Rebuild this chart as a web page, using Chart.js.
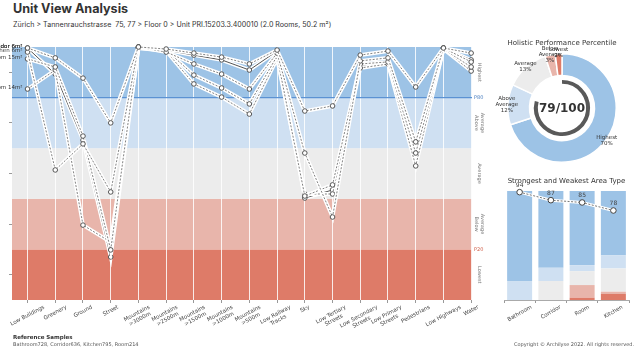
<!DOCTYPE html>
<html>
<head>
<meta charset="utf-8">
<script src="https://cdn.jsdelivr.net/npm/chart.js@4.4.0/dist/chart.umd.min.js"></script>
<style>
  body { margin: 0; width: 640px; height: 350px; position: relative; background: #fff; overflow: hidden; font-family: "DejaVu Sans", sans-serif; color: #333; }
  canvas { position: absolute; }
  #main { left: 0; top: 0; }
  #donut { left: 490px; top: 36px; }
  #bars { left: 490px; top: 170px; }
  .title { position: absolute; left: 13px; top: 1px; font: 700 12.6px Inter, sans-serif; color: #333; }
  .subtitle { position: absolute; left: 13px; top: 20px; font: 7.1px Inter, sans-serif; color: #333; white-space: nowrap; }
  .refhead { position: absolute; left: 13px; top: 334px; font: bold 5.5px "DejaVu Sans", sans-serif; color: #333; }
  .reftext { position: absolute; left: 13px; top: 341px; font: 5px "DejaVu Sans", sans-serif; color: #555; white-space: nowrap; }
  .copy { position: absolute; right: 6px; top: 341px; font: 5px "DejaVu Sans", sans-serif; color: #555; white-space: nowrap; }
</style>
</head>
<body>
<div class="title">Unit View Analysis</div>
<div class="subtitle">Zürich &gt; Tannenrauchstrasse&nbsp; 75, 77 &gt; Floor 0 &gt; Unit PRI.15203.3.400010 (2.0 Rooms, 50.2 m²)</div>
<canvas id="main" width="490" height="340"></canvas>
<canvas id="donut" width="150" height="140"></canvas>
<canvas id="bars" width="150" height="160"></canvas>
<div class="refhead">Reference Samples</div>
<div class="reftext">Bathroom728, Corridor636, Kitchen795, Room214</div>
<div class="copy">Copyright © Archilyse 2022. All rights reserved.</div>

<script>
// view categories (x axis of the parallel plot)
const categories = ['Low Buildings', 'Greenery', 'Ground', 'Street', 'Mountains\n>3000m', 'Mountains\n>2500m',
    'Mountains\n>1500m', 'Mountains\n>1000m', 'Mountains\n>500m', 'Low Railway\nTracks', 'Sky',
    'Low Tertiary\nStreets', 'Low Secondary\nStreets', 'Low Primary\nStreets', 'Pedestrians', 'Low Highways', 'Water'];

// percentile bands, bottom to top
const bandEdges = [0, 20, 40, 60, 80, 100];
const bandNames = ['Lowest', 'Below\nAverage', 'Average', 'Above\nAverage', 'Highest'];
const bandCentres = [10, 30, 50, 70, 90];

// reference samples, percentile per category
const sampleNames = ['Corridor 6m²', 'Kitchen 6m²', 'Bathroom 15m²', 'Room 14m²', 'Corridor 6m²'];
const corridor6 = [99.6, 95.7, 87.7, 70.0, 100, 99.2, 97.6, 96.0, 93.3, 98.8, 74.7, 76.7, 96.8, 98.4, 84.2, 99.6, 97.6];
const kitchen6 = [98.0, 51.4, 61.7, 42.7, 100, 98.0, 93.3, 89.3, 83.4, 97.6, 58.1, 32.8, 94.5, 95.7, 62.5, 99.6, 94.1];
const bathroom15 = [95.3, 92.1, 64.8, 19.8, 100, 98.8, 88.9, 83.8, 77.5, 96.4, 41.1, 45.5, 93.3, 94.1, 58.1, 99.2, 92.1];
const room14 = [83.4, 90.9, 29.6, 22.9, 99.6, 98.4, 85.4, 80.2, 73.5, 95.3, 41.9, 41.9, 91.7, 93.3, 53.0, 99.2, 90.5];
const corridor6b = [99.6, 89.3, 63.2, 17.0, 99.6, 98.8, 96.8, 94.9, 90.9, 98.4, 40.3, 43.5, 92.5, 93.7, 56.1, 99.6, 94.9];
const samples = [corridor6, kitchen6, bathroom15, room14, corridor6b];

// holistic percentile doughnut
const shareLabels = ['Highest', 'Above\nAverage', 'Average', 'Below\nAverage', 'Lowest'];
const shareValues = [70, 12, 13, 3, 2];
const score = 79;

// strongest / weakest area type
const areaTypes = ['Bathroom', 'Corridor', 'Room', 'Kitchen'];
const lowestShare = [0, 0, 2.1, 5.5];
const belowShare = [0, 0, 11.6, 2.1];
const averageShare = [0, 17.4, 12.8, 21.3];
const aboveShare = [17.4, 12.2, 5.5, 12.2];
const highestShare = [82.6, 70.4, 68.0, 58.9];
const areaScores = [94, 87, 85, 78];

const bandColors = ['#de7b68', '#e8b5ab', '#ececec', '#cfe0f2', '#9dc3e6'];
const FONT = '"DejaVu Sans", sans-serif';

// rotated tick labels centred under each tick
function drawTickLabels(chart, labels, size, deg, top) {
    const ctx = chart.ctx, x = chart.scales.x;
    const a = deg * Math.PI / 180, lh = size * 1.15;
    ctx.save();
    ctx.font = size + 'px ' + FONT;
    ctx.fillStyle = '#444';
    ctx.textAlign = 'center';
    ctx.textBaseline = 'middle';
    labels.forEach(function (label, i) {
        const lines = label.split('\n');
        const w = Math.max.apply(null, lines.map(function (l) { return ctx.measureText(l).width; }));
        const h = lines.length * lh;
        const cx = x.getPixelForValue(i);
        const cy = top + (w / 2) * Math.sin(a) + (h / 2) * Math.cos(a);
        ctx.setTransform(1, 0, 0, 1, cx, cy);
        ctx.rotate(-a);
        lines.forEach(function (l, k) { ctx.fillText(l, 0, (k - (lines.length - 1) / 2) * lh); });
    });
    ctx.restore();
}

// main parallel plot
let datasets = [];
samples.forEach(function (s, n) {
    const pts = s.map(function (v, i) { return {x: i, y: v}; });
    const solid = n === 4;
    datasets.push({data: pts, borderColor: '#fff', borderWidth: 3.8, pointRadius: 0, tension: 0, order: 2 * n + 1, clip: false});
    datasets.push({data: pts, borderColor: solid ? '#555' : '#5a5a5a', borderWidth: solid ? 1 : 0.75,
        borderDash: solid ? [] : [2, 1.5], pointRadius: 2.3, pointBorderWidth: 0.9,
        pointBackgroundColor: '#fff', pointBorderColor: '#444', tension: 0, order: 2 * n, clip: false});
});

new Chart(document.getElementById('main'), {
    type: 'line',
    data: {datasets: datasets},
    options: {
        responsive: false,
        animation: false,
        layout: {padding: {top: 47, right: 18, left: 0, bottom: 0}},
        plugins: {legend: {display: false}, tooltip: {enabled: false}},
        scales: {
            x: {
                type: 'linear', min: -0.56, max: 16.03,
                afterBuildTicks: function (s) { s.ticks = categories.map(function (c, i) { return {value: i}; }); },
                afterFit: function (s) { s.height = 40; },
                ticks: {display: false},
                grid: {color: 'rgba(255,255,255,0.85)', lineWidth: 1, tickLength: 3, tickColor: '#999'},
                border: {display: false}
            },
            y: {
                min: 0, max: 100,
                afterBuildTicks: function (s) { s.ticks = bandCentres.map(function (v) { return {value: v}; }); },
                afterFit: function (s) { s.width = 12; },
                ticks: {display: false},
                grid: {drawOnChartArea: false, tickLength: 3, tickColor: '#999'},
                border: {display: false}
            }
        }
    },
    plugins: [{
        id: 'bands',
        beforeDraw: function (chart) {
            const ctx = chart.ctx, a = chart.chartArea, y = chart.scales.y;
            bandNames.forEach(function (name, i) {
                const top = y.getPixelForValue(bandEdges[i + 1]);
                const bottom = y.getPixelForValue(bandEdges[i]);
                ctx.fillStyle = bandColors[i];
                ctx.fillRect(a.left, top, a.right - a.left, bottom - top);
            });
        },
        beforeDatasetsDraw: function (chart) {
            const ctx = chart.ctx, a = chart.chartArea, y = chart.scales.y;
            const p = y.getPixelForValue(80);
            ctx.save();
            ctx.strokeStyle = '#5b92d3';
            ctx.lineWidth = 1.2;
            ctx.beginPath();
            ctx.moveTo(a.left, p);
            ctx.lineTo(a.right, p);
            ctx.stroke();
            ctx.restore();
        },
        afterDraw: function (chart) {
            const ctx = chart.ctx, a = chart.chartArea, x = chart.scales.x, y = chart.scales.y;
            drawTickLabels(chart, categories, 5.5, 28, a.bottom + 4);
            ctx.save();
            // sample names at first axis
            ctx.font = '5.5px ' + FONT;
            ctx.fillStyle = '#333';
            ctx.textAlign = 'right';
            ctx.textBaseline = 'middle';
            samples.forEach(function (s, n) {
                ctx.fillText(sampleNames[n], x.getPixelForValue(0) - 5, y.getPixelForValue(s[0]) - 1);
            });
            // thresholds
            ctx.textAlign = 'left';
            ctx.font = '5px ' + FONT;
            ctx.fillStyle = '#4a7fc0';
            ctx.fillText('P80', a.right + 2, y.getPixelForValue(80));
            ctx.fillStyle = '#d0604a';
            ctx.fillText('P20', a.right + 2, y.getPixelForValue(20));
            // band names
            ctx.fillStyle = '#777';
            ctx.textAlign = 'center';
            bandNames.forEach(function (name, i) {
                const lines = name.split('\n');
                ctx.setTransform(1, 0, 0, 1, a.right + 7, y.getPixelForValue(bandCentres[i]));
                ctx.rotate(Math.PI / 2);
                lines.forEach(function (l, k) { ctx.fillText(l, 0, -(k - (lines.length - 1) / 2) * 6); });
            });
            ctx.restore();
        }
    }]
});

// holistic performance doughnut
new Chart(document.getElementById('donut'), {
    type: 'doughnut',
    data: {
        labels: shareLabels,
        datasets: [
            {data: shareValues, backgroundColor: [bandColors[4], bandColors[3], bandColors[2], bandColors[1], bandColors[0]],
                borderColor: '#fff', borderWidth: 1.5, weight: 22},
            {data: [1], backgroundColor: 'rgba(0,0,0,0)', borderWidth: 0, weight: 4.5},
            {data: [score, 100 - score], backgroundColor: ['#595959', 'rgba(0,0,0,0)'], borderWidth: 0, weight: 4}
        ]
    },
    options: {
        responsive: false,
        animation: false,
        cutout: '44.5%',
        layout: {padding: {left: 17, right: 23, top: 0, bottom: 13}},
        plugins: {
            legend: {display: false},
            tooltip: {enabled: false},
            title: {display: true, text: 'Holistic Performance Percentile', color: '#333',
                font: {size: 7, family: FONT, weight: 'normal'}, padding: {top: 2.8, bottom: 5.8}}
        }
    },
    plugins: [{
        id: 'donutText',
        afterDraw: function (chart) {
            const ctx = chart.ctx, arcs = chart.getDatasetMeta(0).data;
            ctx.save();
            ctx.textAlign = 'center';
            ctx.textBaseline = 'middle';
            ctx.fillStyle = '#333';
            ctx.font = 'bold 12px ' + FONT;
            ctx.fillText(score + '/100', arcs[0].x, arcs[0].y + 1);
            ctx.font = '5.5px ' + FONT;
            ctx.fillStyle = '#333';
            arcs.forEach(function (arc, i) {
                const mid = (arc.startAngle + arc.endAngle) / 2;
                const r = arc.outerRadius + 1;
                const lines = (shareLabels[i] + '\n' + shareValues[i] + '%').split('\n');
                const cx = arc.x + Math.cos(mid) * r, cy = arc.y + Math.sin(mid) * r;
                lines.forEach(function (l, k) { ctx.fillText(l, cx, cy + (k - (lines.length - 1) / 2) * 6); });
            });
            ctx.restore();
        }
    }]
});

// strongest and weakest area type
new Chart(document.getElementById('bars'), {
    type: 'bar',
    data: {
        labels: areaTypes,
        datasets: [
            {type: 'line', data: areaScores, yAxisID: 'y2', borderColor: '#555', borderWidth: 0.8, borderDash: [2, 1.5],
                pointRadius: 2.8, pointBorderWidth: 1, pointBackgroundColor: '#fff', pointBorderColor: '#444', order: -2, clip: false},
            {type: 'line', data: areaScores, yAxisID: 'y2', borderColor: '#fff', borderWidth: 3, pointRadius: 0, order: -1, clip: false},
            {data: lowestShare, backgroundColor: bandColors[0]},
            {data: belowShare, backgroundColor: bandColors[1]},
            {data: averageShare, backgroundColor: bandColors[2]},
            {data: aboveShare, backgroundColor: bandColors[3]},
            {data: highestShare, backgroundColor: bandColors[4]}
        ]
    },
    options: {
        responsive: false,
        animation: false,
        layout: {padding: {left: 14, right: 11, top: 0, bottom: 0}},
        datasets: {bar: {barPercentage: 0.8, categoryPercentage: 1}},
        plugins: {
            legend: {display: false},
            tooltip: {enabled: false},
            title: {display: true, text: 'Strongest and Weakest Area Type', color: '#333',
                font: {size: 7, family: FONT, weight: 'normal'}, padding: {top: 7, bottom: 5.6}}
        },
        scales: {
            x: {
                stacked: true,
                afterFit: function (s) { s.height = 30; },
                ticks: {display: false},
                grid: {drawOnChartArea: false, tickLength: 3, tickColor: '#999'},
                border: {color: '#aaa'}
            },
            y: {stacked: true, min: 0, max: 100, display: false},
            y2: {min: 0, max: 95, display: false}
        }
    },
    plugins: [{
        id: 'barText',
        afterDraw: function (chart) {
            const ctx = chart.ctx, pts = chart.getDatasetMeta(0).data;
            drawTickLabels(chart, areaTypes, 5.5, 30, chart.chartArea.bottom + 4);
            ctx.save();
            ctx.font = '6px ' + FONT;
            ctx.fillStyle = '#444';
            ctx.textAlign = 'center';
            ctx.textBaseline = 'middle';
            pts.forEach(function (p, i) { ctx.fillText(areaScores[i], p.x, p.y - 7); });
            ctx.restore();
        }
    }]
});
</script>
</body>
</html>
